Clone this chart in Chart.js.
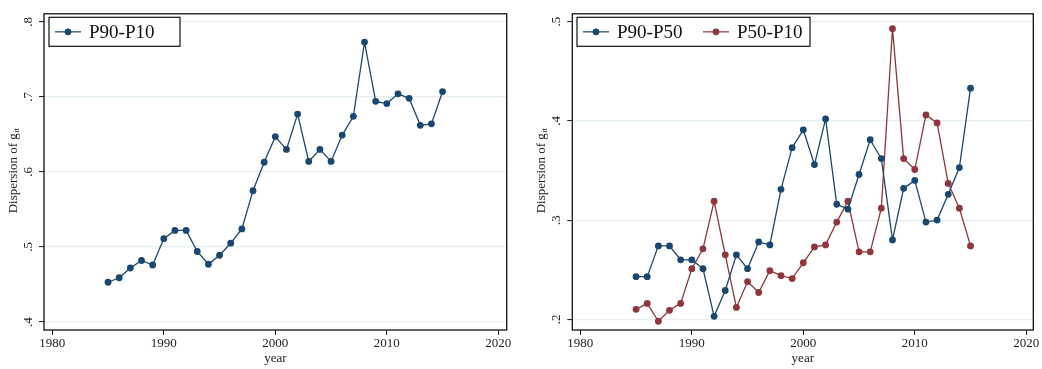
<!DOCTYPE html>
<html>
<head>
<meta charset="utf-8">
<script src="https://cdn.jsdelivr.net/npm/chart.js@4.4.1/dist/chart.umd.min.js"></script>
<style>
  body { margin: 0; background: #fff; }
  #wrap { position: relative; width: 1042px; height: 369px; }
  #left { position: absolute; left: 0; top: 0; }
  #right { position: absolute; left: 516px; top: 0; }
</style>
</head>
<body>
<div id="wrap">
  <canvas id="left" width="516" height="369"></canvas>
  <canvas id="right" width="526" height="369"></canvas>
</div>
<script>
// data
const years = [1985,1986,1987,1988,1989,1990,1991,1992,1993,1994,1995,1996,1997,1998,1999,
               2000,2001,2002,2003,2004,2005,2006,2007,2008,2009,2010,2011,2012,2013,2014,2015];
const p90p10 = [0.453,0.459,0.472,0.482,0.476,0.511,0.522,0.522,0.494,0.477,0.489,0.505,0.524,0.575,0.613,
                0.647,0.630,0.677,0.614,0.630,0.614,0.649,0.674,0.773,0.694,0.691,0.704,0.698,0.662,0.664,0.707];
const p90p50 = [0.243,0.243,0.274,0.274,0.260,0.260,0.251,0.203,0.229,0.265,0.251,0.278,0.275,0.331,0.373,
                0.391,0.356,0.402,0.316,0.311,0.346,0.381,0.362,0.280,0.332,0.340,0.298,0.300,0.326,0.353,0.433];
const p50p10 = [0.210,0.216,0.198,0.209,0.216,0.251,0.271,0.319,0.265,0.212,0.238,0.227,0.249,0.244,0.241,
                0.257,0.273,0.275,0.298,0.319,0.268,0.268,0.312,0.493,0.362,0.351,0.406,0.398,0.337,0.312,0.274];
const xTicks = [1980,1990,2000,2010,2020];
const leftYTicks = [0.4,0.5,0.6,0.7,0.8];
const leftYLabels = ['.4','.5','.6','.7','.8'];
const rightYTicks = [0.2,0.3,0.4,0.5];
const rightYLabels = ['.2','.3','.4','.5'];

const NAVY = '#1a476f';
const MAROON = '#90353b';
const FONT = '"Liberation Serif", "DejaVu Serif", serif';

function pts(vals) {
    return years.map((y, i) => ({ x: y, y: vals[i] }));
}

function makeSeries(label, vals, color) {
    return {
        label: label,
        data: pts(vals),
        borderColor: color,
        backgroundColor: color,
        borderWidth: 1.3,
        pointRadius: 3.4,
        pointBorderWidth: 0,
        pointHoverRadius: 3.4,
        tension: 0
    };
}

// frame, legend box and the axis titles (y title has a subscript)
const stataPlugin = {
    id: 'stata',
    afterDraw(chart, args, opts) {
        const ctx = chart.ctx;
        const a = chart.chartArea;
        ctx.save();
        ctx.strokeStyle = '#111';
        ctx.lineWidth = 1.3;
        ctx.strokeRect(a.left, a.top, a.right - a.left, a.bottom - a.top);

        // legend
        const lg = opts.legend;
        ctx.fillStyle = '#fff';
        ctx.fillRect(lg.x, lg.y, lg.w, lg.h);
        ctx.strokeStyle = '#111';
        ctx.lineWidth = 1.2;
        ctx.strokeRect(lg.x, lg.y, lg.w, lg.h);
        const cy = lg.y + lg.h / 2;
        ctx.font = '19px ' + FONT;
        ctx.textBaseline = 'middle';
        chart.data.datasets.forEach((ds, i) => {
            const x0 = lg.items[i];
            ctx.globalAlpha = 0.75;
            ctx.strokeStyle = ds.borderColor;
            ctx.lineWidth = 1.6;
            ctx.beginPath();
            ctx.moveTo(x0, cy);
            ctx.lineTo(x0 + 26, cy);
            ctx.stroke();
            ctx.globalAlpha = 1;
            ctx.fillStyle = ds.borderColor;
            ctx.beginPath();
            ctx.arc(x0 + 13, cy, 3.4, 0, Math.PI * 2);
            ctx.fill();
            ctx.fillStyle = '#111';
            ctx.textAlign = 'left';
            ctx.fillText(ds.label, x0 + 34, cy + 1);
        });

        // x title
        ctx.fillStyle = '#222';
        ctx.font = '13px ' + FONT;
        ctx.textAlign = 'center';
        ctx.textBaseline = 'middle';
        ctx.fillText('year', (a.left + a.right) / 2, 359);

        // y title
        ctx.translate(opts.titleX, 171);
        ctx.rotate(-Math.PI / 2);
        const main = 'Dispersion of g';
        ctx.font = '13px ' + FONT;
        const w1 = ctx.measureText(main).width;
        ctx.font = '8px ' + FONT;
        const w2 = ctx.measureText('it').width;
        const start = -(w1 + w2) / 2;
        ctx.textAlign = 'left';
        ctx.font = '13px ' + FONT;
        ctx.fillText(main, start, 0);
        ctx.font = '8px ' + FONT;
        ctx.fillText('it', start + w1 + 0.5, 3);
        ctx.restore();
    }
};

function buildChart(canvasId, datasets, cfg) {
    return new Chart(document.getElementById(canvasId), {
        type: 'line',
        data: { datasets: datasets },
        plugins: [stataPlugin],
        options: {
            responsive: false,
            animation: false,
            events: [],
            layout: { padding: { left: 0, top: 12.7, right: cfg.padRight, bottom: 0 } },
            plugins: {
                legend: { display: false },
                tooltip: { enabled: false },
                stata: { legend: cfg.legend, titleX: cfg.titleX }
            },
            scales: {
                x: {
                    type: 'linear',
                    min: cfg.xMin,
                    max: cfg.xMax,
                    afterBuildTicks: s => { s.ticks = xTicks.map(v => ({ value: v })); },
                    afterFit: s => { s.height = 39; },
                    grid: { drawOnChartArea: false, drawTicks: true, tickLength: 5, tickColor: '#111', tickWidth: 1 },
                    border: { display: false },
                    ticks: { font: { family: FONT, size: 13 }, color: '#222', padding: 1, maxRotation: 0,
                             callback: v => String(v) }
                },
                y: {
                    type: 'linear',
                    min: cfg.yMin,
                    max: cfg.yMax,
                    afterBuildTicks: s => { s.ticks = cfg.yTicks.map(v => ({ value: v })); },
                    afterFit: s => { s.width = cfg.yWidth; },
                    grid: { color: '#e4eef0', lineWidth: 1.2, drawTicks: true, tickLength: 5, tickColor: '#111', tickWidth: 1 },
                    border: { display: false },
                    ticks: {
                        font: { family: FONT, size: 13 }, color: '#222',
                        minRotation: 90, maxRotation: 90, crossAlign: 'center', padding: 6,
                        callback: v => {
                            const i = cfg.yTicks.findIndex(t => Math.abs(t - v) < 1e-9);
                            return i >= 0 ? cfg.yLabels[i] : '';
                        }
                    }
                }
            }
        }
    });
}

buildChart('left', [makeSeries('P90-P10', p90p10, NAVY)], {
    padRight: 9.3, yWidth: 44,
    xMin: 1979.256, xMax: 2020.75,
    yMin: 0.3894, yMax: 0.8106,
    yTicks: leftYTicks, yLabels: leftYLabels,
    titleX: 14,
    legend: { x: 49, y: 17.3, w: 131, h: 29, items: [55] }
});

buildChart('right', [makeSeries('P90-P50', p90p50, NAVY), makeSeries('P50-P10', p50p10, MAROON)], {
    padRight: 8.7, yWidth: 56.3,
    xMin: 1979.28, xMax: 2020.63,
    yMin: 0.1892, yMax: 0.508,
    yTicks: rightYTicks, yLabels: rightYLabels,
    titleX: 26,
    legend: { x: 61, y: 17.3, w: 233, h: 29, items: [67, 187] }
});
</script>
</body>
</html>
